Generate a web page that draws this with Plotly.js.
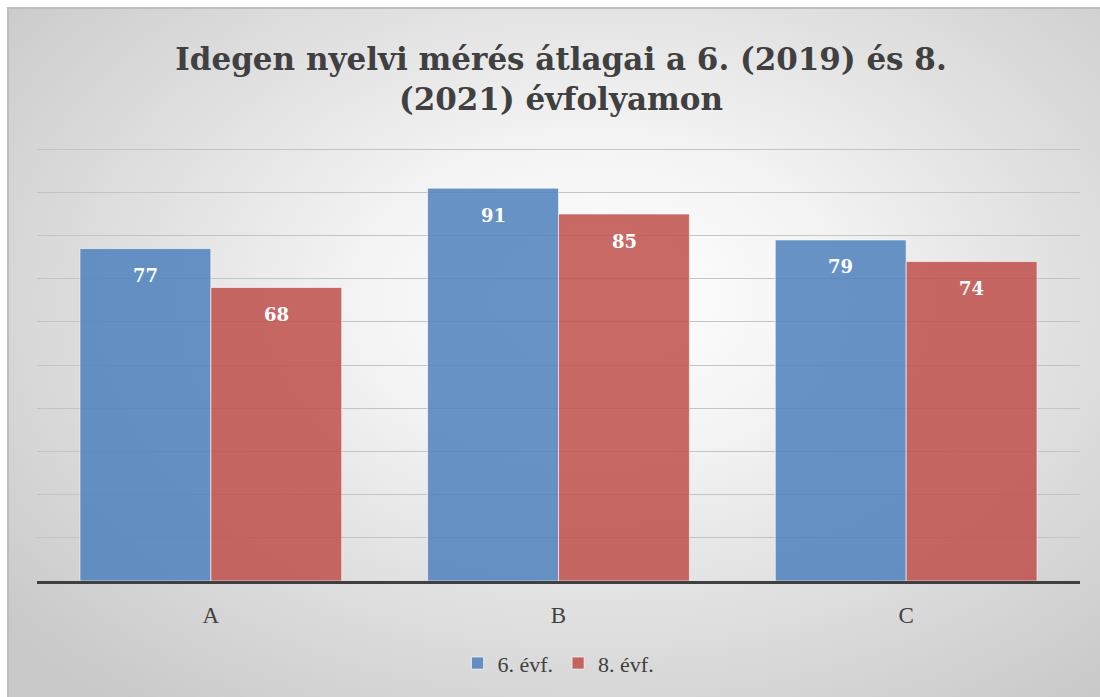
<!DOCTYPE html>
<html>
<head>
<meta charset="utf-8">
<script src="https://cdn.plot.ly/plotly-3.0.1.min.js"></script>
<style>
  html, body { margin:0; padding:0; background:#ffffff; }
  #bg { position:absolute; left:7px; top:7px; width:1093px; height:690px;
        border-left:2px solid #bdbdbd; border-top:2px solid #bdbdbd; box-sizing:border-box;
        background: radial-gradient(ellipse 70% 75% at 54% 42%, #ffffff 0%, #f4f4f4 30%, #dedede 65%, #c9c9c9 100%); }
  #chart { position:absolute; left:0; top:0; width:1100px; height:697px; }
</style>
</head>
<body>
<div id="bg"></div>
<div id="chart"></div>
<script>
const categories = ['A', 'B', 'C'];
const seriesNames = ['6. évf.', '8. évf.'];
const values6 = [77, 91, 79];
const values8 = [68, 85, 74];

const serif = 'Liberation Serif, DejaVu Serif, serif';
const wideSerif = 'DejaVu Serif, Liberation Serif, serif';
const blue = 'rgba(79,129,189,0.86)';
const red = 'rgba(192,80,77,0.86)';

const traces = [
  { type:'bar', name: seriesNames[0], x: categories, y: values6,
    marker:{ color: blue, line:{ color:'rgba(255,255,255,0.6)', width:1 } }, hoverinfo:'none' },
  { type:'bar', name: seriesNames[1], x: categories, y: values8,
    marker:{ color: red, line:{ color:'rgba(255,255,255,0.6)', width:1 } }, hoverinfo:'none' }
];

const annotations = [];
categories.forEach((c, i) => {
  annotations.push({ x: c, y: values6[i], xref:'x', yref:'y', text: String(values6[i]), showarrow:false,
    xshift:-65.5, yshift:-27, yanchor:'middle', font:{ family: wideSerif, size:18, color:'#ffffff', weight:'bold' } });
  annotations.push({ x: c, y: values8[i], xref:'x', yref:'y', text: String(values8[i]), showarrow:false,
    xshift:65.5, yshift:-27, yanchor:'middle', font:{ family: wideSerif, size:18, color:'#ffffff', weight:'bold' } });
});

const layout = {
  width:1100, height:697,
  paper_bgcolor:'rgba(0,0,0,0)', plot_bgcolor:'rgba(0,0,0,0)',
  margin:{ l:37, r:20, t:148, b:116 },
  title:{ text:'Idegen nyelvi mérés átlagai a 6. (2019) és 8.<br>(2021) évfolyamon',
    font:{ family: wideSerif, size:31, color:'#404040', weight:'bold' },
    xref:'container', x:0.51, xanchor:'center', yref:'container', y:0.90, yanchor:'top' },
  barmode:'group', bargap:0.247, bargroupgap:0,
  xaxis:{ showline:true, linecolor:'#404040', linewidth:3, ticks:'', showgrid:false,
    tickfont:{ family: serif, size:23, color:'#404040' }, ticklabelstandoff:11 },
  yaxis:{ range:[0,100.3], tickvals:[10,20,30,40,50,60,70,80,90,100], showticklabels:false, showgrid:true, gridcolor:'#c4c4c4', gridwidth:1,
    zeroline:false, showline:false, ticks:'' },
  showlegend:true,
  legend:{ orientation:'h', x:0.5, xanchor:'center', y:-0.19, yanchor:'middle',
    font:{ family: serif, size:22, color:'#404040' }, bgcolor:'rgba(0,0,0,0)', itemwidth:30, traceorder:'normal' },
  annotations: annotations
};

Plotly.newPlot('chart', traces, layout, { staticPlot:true, displayModeBar:false });
</script>
</body>
</html>
